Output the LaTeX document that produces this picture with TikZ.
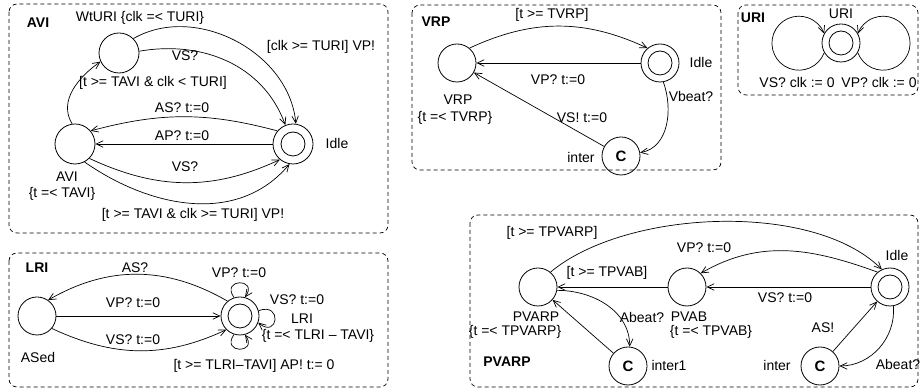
\documentclass[tikz,border=0pt]{standalone}
\usepackage{fontspec}
\setmainfont{Liberation Sans}
\usetikzlibrary{arrows.meta}
\tikzset{
  st/.style={circle, draw, minimum size=38pt, inner sep=0pt, line width=0.8pt},
  fin/.style={st, label={[circle, draw, minimum size=24pt, inner sep=0pt, line width=0.8pt]center:}},
  com/.style={st, font=\fontsize{15}{17}\selectfont\bfseries},
  box/.style={draw, dash pattern=on 4pt off 3pt, rounded corners=8pt, line width=0.7pt},
  ed/.style={-{Straight Barb[length=7pt,width=6.5pt]}, line width=0.7pt},
  lb/.style={inner sep=0pt},
  tt/.style={inner sep=0pt, font=\fontsize{14}{16}\selectfont\bfseries}
}
\begin{document}
\begin{tikzpicture}[x=1pt, y=1pt, font=\fontsize{14}{16}\selectfont]
\useasboundingbox (0,0) rectangle (920,390);

% ---------------- AVI ----------------
\draw[box] (9,386) rectangle (388,157);
\node[tt] (tAVI) at (38,367) {AVI};
\node[st, minimum size=40pt] (w) at (119,337) {};
\node[st, minimum size=40pt] (a) at (75,246) {};
\node[fin, minimum size=40pt] (i) at (293,246) {};
\node[lb] (l1) at (140,372) {WtURI \{clk =< TURI\}};
\node[lb] (l2) at (321,343) {[clk >= TURI] VP!};
\node[lb] (l3) at (185,334) {VS?};
\node[lb] (l4) at (153,307) {[t >= TAVI \& clk < TURI]};
\node[lb] (l5) at (182,282) {AS? t:=0};
\node[lb] (l6) at (182,254) {AP? t:=0};
\node[lb] (l7) at (185,223) {VS?};
\node[lb] (l8) at (67,213) {AVI};
\node[lb] (l9) at (62,196) {\{t =< TAVI\}};
\node[lb] (l10) at (193,175) {[t >= TAVI \& clk >= TURI] VP!};
\node[lb] (l11) at (337,246) {Idle};
\draw[ed] (w.45) to[out=30,in=95] (i.82);
\draw[ed] (w.5) to[out=10,in=110] (i.112);
\draw[ed] (a.98) to[out=122,in=215] (w.205);
\draw[ed] (i.140) to[out=165,in=15] (a.40);
\draw[ed] (i) -- (a);
\draw[ed] (a.-45) to[out=-25,in=-155] (i.-130);
\draw[ed] (a.-62) to[out=-35,in=-130] (i.-100);

% ---------------- VRP ----------------
\draw[box] (412,385) rectangle (721,220);
\node[tt] (tVRP) at (436,368) {VRP};
\node[st] (v) at (457,327) {};
\node[fin] (vi) at (660,327) {};
\node[com] (vc) at (621,234) {C};
\node[lb] (m1) at (552,375) {[t >= TVRP]};
\node[lb] (m2) at (701,327) {Idle};
\node[lb] (m3) at (558,310) {VP? t:=0};
\node[lb] (m4) at (691,293) {Vbeat?};
\node[lb] (m5) at (582,272) {VS! t:=0};
\node[lb] (m6) at (458,290) {VRP};
\node[lb] (m7) at (455,272) {\{t =< TVRP\}};
\node[lb] (m8) at (581,232) {inter};
\draw[ed] (v.50) to[out=25,in=155] (vi.130);
\draw[ed] (vi) -- (v);
\draw[ed] (vi.-80) to[out=-70,in=10] (vc.10);
\draw[ed] (vc) -- (v);

% ---------------- URI ----------------
\draw[box] (738,385) rectangle (918,295);
\node[tt] (tURI) at (753,372) {URI};
\node[fin] (u) at (841,347) {};
\node[lb] (n1) at (841,376) {URI};
\node[lb] (n2) at (797,307) {VS? clk := 0};
\node[lb] (n3) at (879,307) {VP? clk := 0};
\draw[ed] (u.210) arc[start angle=-20.6, end angle=-339.4, radius=27];
\draw[ed] (u.-30) arc[start angle=200.6, end angle=519.4, radius=27];

% ---------------- LRI ----------------
\draw[box] (9,137) rectangle (388,3);
\node[tt] (tLRI) at (37,122) {LRI};
\node[st] (as) at (37,74) {};
\node[fin] (l) at (240,74) {};
\node[lb] (k1) at (38,33) {ASed};
\node[lb] (k2) at (135,122) {AS?};
\node[lb] (k3) at (133,87) {VP? t:=0};
\node[lb] (k4) at (133,50) {VS? t:=0};
\node[lb] (k5) at (239,117) {VP? t:=0};
\node[lb] (k6) at (297,90) {VS? t:=0};
\node[lb] (k7) at (302,71) {LRI};
\node[lb] (k8) at (318,54) {\{t =< TLRI -- TAVI\}};
\node[lb] (k9) at (254,24) {[t >= TLRI--TAVI] AP! t:= 0};
\draw[ed] (l.130) to[out=150,in=30] (as.55);
\draw[ed] (as) -- (l);
\draw[ed] (as.-40) to[out=-25,in=-155] (l.-135);
\draw[ed] (l.108) to[out=125,in=55,looseness=5.5] (l.75);
\draw[ed] (l.16) to[out=20,in=-40,looseness=5.5] (l.-20);
\draw[ed] (l.-108) to[out=-125,in=-55,looseness=5.5] (l.-75);

% ---------------- PVARP ----------------
\draw[box] (470,175) rectangle (918,3);
\node[tt] (tPV) at (507,28) {PVARP};
\node[st] (pv) at (538,103) {};
\node[st] (pb) at (687,103) {};
\node[fin] (pi) at (890,103) {};
\node[com] (i1) at (628,24) {C};
\node[com] (ic) at (820,24) {C};
\node[lb] (p1) at (552,157) {[t >= TPVARP]};
\node[lb] (p2) at (704,142) {VP? t:=0};
\node[lb] (p3) at (607,117) {[t >= TPVAB]};
\node[lb] (p4) at (785,92) {VS? t:=0};
\node[lb] (p5) at (536,73) {PVARP};
\node[lb] (p6) at (515,58) {\{t =< TPVARP\}};
\node[lb] (p7) at (642,73) {Abeat?};
\node[lb] (p8) at (689,73) {PVAB};
\node[lb] (p9) at (711,58) {\{t =< TPVAB\}};
\node[lb] (p10) at (897,135) {Idle};
\node[lb] (p11) at (823,62) {AS!};
\node[lb] (p12) at (669,25) {inter1};
\node[lb] (p13) at (777,25) {inter};
\node[lb] (p14) at (898,26) {Abeat?};
\draw[ed] (pv.50) to[out=40,in=135,looseness=0.75] (pi.115);
\draw[ed] (pi.130) to[out=160,in=30] (pb.45);
\draw[ed] (pi) -- (pb);
\draw[ed] (pb) -- (pv);
\draw[ed] (pv.-10) to[out=0,in=90] (i1.85);
\draw[ed] (i1) -- (pv);
\draw[ed] (pi.-80) to[out=-85,in=0] (ic.0);
\draw[ed] (ic) -- (pi);
\end{tikzpicture}
\end{document}
